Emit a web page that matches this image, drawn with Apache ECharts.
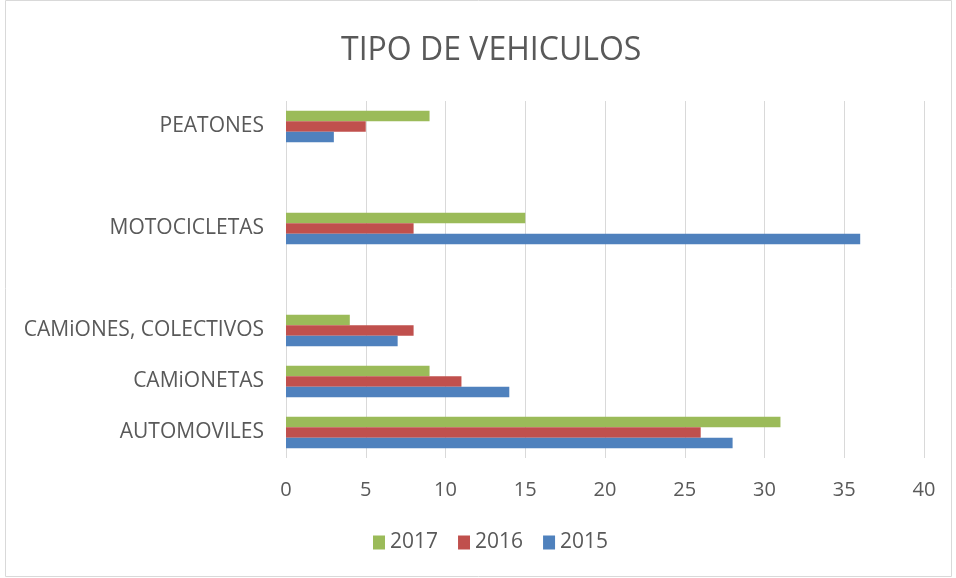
<!DOCTYPE html>
<html>
<head>
<meta charset="utf-8">
<script src="https://cdn.jsdelivr.net/npm/echarts@6/dist/echarts.min.js"></script>
<style>
  html, body { margin: 0; padding: 0; background: #fff; }
  #chart { width: 956px; height: 578px; }
</style>
</head>
<body>
<div id="chart"></div>
<script>
// categorias de abajo hacia arriba (con dos huecos vacíos)
const categorias = ['AUTOMOVILES', 'CAMiONETAS', 'CAMiONES, COLECTIVOS', ' ', 'MOTOCICLETAS', '  ', 'PEATONES']
const anios = ['2017', '2016', '2015']
const datos2015 = [28, 14, 7, null, 36, null, 3]
const datos2016 = [26, 11, 8, null, 8, null, 5]
const datos2017 = [31, 9, 4, null, 15, null, 9]
const ticksX = [0, 5, 10, 15, 20, 25, 30, 35, 40]

const colores = { '2015': '#4f81bd', '2016': '#c0504d', '2017': '#9bbb59' }
const fuente = 'Open Sans'

let mychart = echarts.init(document.getElementById('chart'))
mychart.setOption({
  animation: false,
  textStyle: { fontFamily: fuente },
  title: {
    text: 'TIPO DE VEHICULOS',
    left: 336,
    top: 30,
    textStyle: { fontSize: 32, fontWeight: 'normal', color: '#595959', fontFamily: fuente }
  },
  //borde del gráfico
  graphic: [{
    type: 'rect',
    shape: { x: 5.5, y: 0.5, width: 946, height: 576 },
    style: { fill: 'none', stroke: '#d9d9d9', lineWidth: 1 },
    silent: true
  }],
  legend: {
    data: anios,
    bottom: 20,
    left: 368,
    itemWidth: 12,
    itemHeight: 14,
    itemGap: 20,
    icon: 'rect',
    textStyle: { fontSize: 21, color: '#595959', fontFamily: fuente }
  },
  grid: { left: 286, right: 32, top: 101, bottom: 120, containLabel: false },
  xAxis: {
    type: 'value',
    min: ticksX[0],
    max: ticksX[ticksX.length - 1],
    interval: 5,
    axisLine: { show: false },
    axisTick: { show: false },
    splitLine: { lineStyle: { color: '#d9d9d9', width: 1 } },
    axisLabel: { fontSize: 20, color: '#595959', margin: 22, fontFamily: fuente }
  },
  yAxis: {
    type: 'category',
    data: categorias,
    axisLine: { show: false },
    axisTick: { show: false },
    axisLabel: { fontSize: 21, color: '#595959', margin: 22, fontFamily: fuente }
  },
  // en barras horizontales la primera serie queda arriba dentro de cada banda
  series: [
    { name: '2017', type: 'bar', data: datos2017, itemStyle: { color: colores['2017'] }, barGap: '0%', barCategoryGap: '38%' },
    { name: '2016', type: 'bar', data: datos2016, itemStyle: { color: colores['2016'] }, barGap: '0%', barCategoryGap: '38%' },
    { name: '2015', type: 'bar', data: datos2015, itemStyle: { color: colores['2015'] }, barGap: '0%', barCategoryGap: '38%' }
  ]
})
</script>
</body>
</html>
